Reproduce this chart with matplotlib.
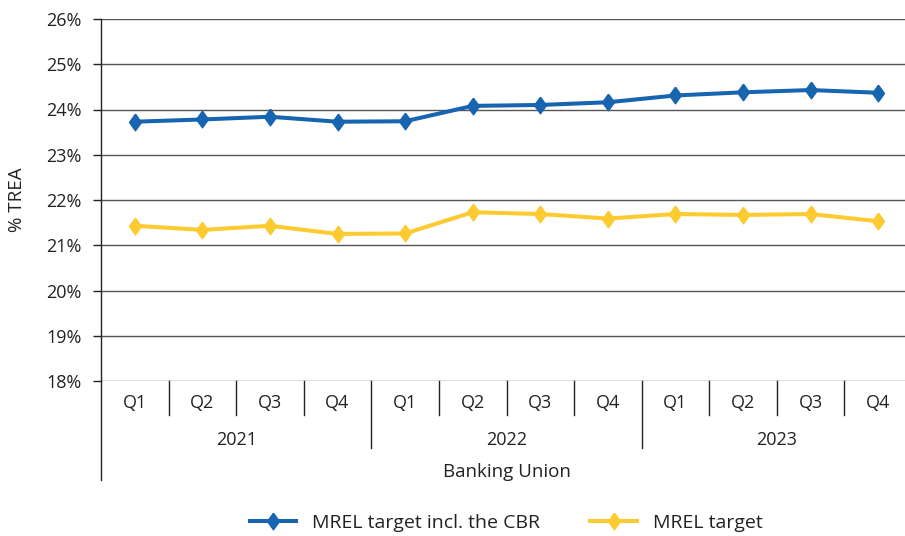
import numpy as np
import matplotlib
matplotlib.use('Agg')
from matplotlib import pyplot as plt
from matplotlib.transforms import blended_transform_factory

plt.rcParams['font.family'] = ['Open Sans', 'DejaVu Sans']

quarters = ['Q1', 'Q2', 'Q3', 'Q4'] * 3
years = ['2021', '2022', '2023']
group_label = 'Banking Union'

mrel_cbr = [23.73, 23.78, 23.84, 23.73, 23.74, 24.08, 24.10, 24.16, 24.31, 24.38, 24.43, 24.37]
mrel = [21.43, 21.34, 21.43, 21.25, 21.26, 21.73, 21.69, 21.59, 21.69, 21.67, 21.69, 21.53]

blue = '#1764b0'
yellow = '#fdca2f'
text_col = '#222222'

diamond = [(0, 1), (0.72, 0), (0, -1), (-0.72, 0), (0, 1)]

fig = plt.figure(figsize=(9.05, 5.36), dpi=100)
ax = fig.add_axes([101 / 905, 155 / 536, 811 / 905, 362 / 536])

x = np.arange(len(quarters))
ax.plot(x, mrel_cbr, color=blue, lw=2.9, marker=diamond, markersize=12,
        label='MREL target incl. the CBR', zorder=3)
ax.plot(x, mrel, color=yellow, lw=2.9, marker=diamond, markersize=12,
        label='MREL target', zorder=3)

ax.set_xlim(-0.5, len(quarters) - 0.5)
ax.set_ylim(18, 26)
yt = np.arange(18, 27)
ax.set_yticks(yt)
ax.set_yticklabels([f'{v}%' for v in yt], fontsize=13, color=text_col)
ax.tick_params(axis='y', length=6, width=1, color='#222222', pad=8)
ax.set_xticks([])
ax.grid(axis='y', color='#555555', lw=1)
ax.set_axisbelow(True)
for s in ['top', 'right', 'bottom']:
    ax.spines[s].set_visible(False)
ax.spines['left'].set_color('#222222')
ax.spines['left'].set_linewidth(1)
ax.set_ylabel('% TREA', fontsize=13.5, color=text_col)
ax.yaxis.set_label_coords(-75 / 811, 0.5)

# category axis below the plot
tr = blended_transform_factory(ax.transData, ax.transAxes)
px = 1 / 362
for i, q in enumerate(quarters):
    ax.text(i, -22 * px, q, transform=tr, ha='center', va='center',
            fontsize=13, color=text_col)
for i in range(1, len(quarters)):
    bottom = -67 * px if i % 4 == 0 else -34 * px
    ax.plot([i - 0.5, i - 0.5], [0, bottom], transform=tr, color='#222222',
            lw=1, clip_on=False)
for j, yr in enumerate(years):
    ax.text(4 * j + 1.5, -59 * px, yr, transform=tr, ha='center', va='center',
            fontsize=13, color=text_col)
ax.plot([-0.5, -0.5], [0, -99 * px], transform=tr, color='#222222', lw=1,
        clip_on=False)
ax.text(5.5, -91 * px, group_label, transform=tr, ha='center', va='center',
        fontsize=13.5, color=text_col)

leg = fig.legend(loc='center', bbox_to_anchor=(506 / 905, 13 / 536), ncol=2,
                 frameon=False, fontsize=14, handlelength=2.4,
                 columnspacing=2.6, handletextpad=0.8)
for t in leg.get_texts():
    t.set_color(text_col)

fig.savefig('out.png', dpi=100)
